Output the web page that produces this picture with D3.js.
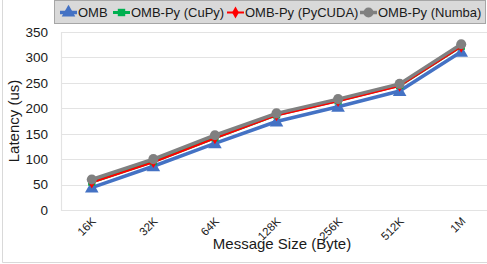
<!DOCTYPE html>
<html>
<head>
<meta charset="utf-8">
<script src="https://cdn.jsdelivr.net/npm/d3@7"></script>
<style>
  body { margin: 0; background: #fff; }
  svg { display: block; font-family: "Liberation Sans", Arial, sans-serif; }
</style>
</head>
<body>
<svg id="svg" width="487" height="264"></svg>
<script>
const sizes = ["16K", "32K", "64K", "128K", "256K", "512K", "1M"];
const yTicks = [0, 50, 100, 150, 200, 250, 300, 350];

const omb      = [44, 86, 131, 174, 203, 234, 311];
const ombCupy  = [55, 95, 142, 187, 215, 245, 322];
const ombPycuda = [54, 94, 141, 186, 214, 244, 321];
const ombNumba = [60, 100, 147, 190, 218, 248, 326];

const seriesNames = ["OMB", "OMB-Py (CuPy)", "OMB-Py (PyCUDA)", "OMB-Py (Numba)"];
const seriesData = [omb, ombCupy, ombPycuda, ombNumba];
const colors = ["#4472c4", "#00b050", "#ff0000", "#808080"];
const symbols = [d3.symbolTriangle, d3.symbolSquare, d3.symbolDiamond, d3.symbolCircle];
const symSize = [80, 55, 40, 80];
const lineW = [3.5, 3, 2, 3.5];

const svg = d3.select("#svg");

const plotL = 61, plotR = 492, plotT = 32, plotB = 210;

const x = d3.scaleBand().domain(sizes).range([plotL, plotR]);
const y = d3.scaleLinear().domain([0, 350]).range([plotB, plotT]);

// outer chart border
svg.append("path")
    .attr("d", `M2.5,-1 V262.5 H490`)
    .attr("fill", "none")
    .attr("stroke", "#d9d9d9");

// gridlines
svg.append("g")
    .selectAll("line")
    .data(yTicks)
    .enter()
    .append("line")
    .attr("x1", plotL)
    .attr("x2", plotR)
    .attr("y1", d => Math.round(y(d)) + 0.5)
    .attr("y2", d => Math.round(y(d)) + 0.5)
    .attr("stroke", "#e3e3e3")
    .attr("stroke-width", 1.2);

svg.append("line")
    .attr("x1", plotL + 0.5).attr("x2", plotL + 0.5)
    .attr("y1", plotT).attr("y2", plotB + 1)
    .attr("stroke", "#e3e3e3")
    .attr("stroke-width", 1.2);

// y axis
const yAxis = svg.append("g")
    .attr("transform", `translate(${plotL},0)`)
    .call(d3.axisLeft(y).tickValues(yTicks).tickSize(0).tickPadding(13));
yAxis.select(".domain").remove();
yAxis.selectAll("text")
    .attr("font-size", 13.5)
    .attr("font-family", "Liberation Sans, Arial, sans-serif")
    .attr("fill", "#1a1a1a");

// x axis labels
const xAxis = svg.append("g")
    .attr("transform", `translate(0,${plotB})`)
    .call(d3.axisBottom(x).tickSize(0).tickPadding(0));
xAxis.select(".domain").remove();
xAxis.selectAll("text")
    .attr("font-size", 11.5)
    .attr("font-family", "Liberation Sans, Arial, sans-serif")
    .attr("fill", "#1a1a1a")
    .attr("text-anchor", "end")
    .attr("dy", 0)
    .attr("transform", "translate(5,12) rotate(-45)");

// axis titles
svg.append("text")
    .attr("x", 282)
    .attr("y", 249)
    .attr("text-anchor", "middle")
    .attr("font-size", 15)
    .attr("fill", "#1a1a1a")
    .text("Message Size (Byte)");

svg.append("text")
    .attr("transform", "translate(19,121) rotate(-90)")
    .attr("text-anchor", "middle")
    .attr("font-size", 15)
    .attr("fill", "#1a1a1a")
    .text("Latency (us)");

// lines and markers
const line = d3.line()
    .x((d, i) => x(sizes[i]) + x.bandwidth() / 2)
    .y(d => y(d));

seriesData.forEach((vals, s) => {
    const g = svg.append("g");
    g.append("path")
        .datum(vals)
        .attr("d", line)
        .attr("fill", "none")
        .attr("stroke", colors[s])
        .attr("stroke-width", lineW[s])
        .attr("stroke-linejoin", "round");
    g.selectAll("path.mk")
        .data(vals)
        .enter()
        .append("path")
        .attr("class", "mk")
        .attr("d", d3.symbol().type(symbols[s]).size(symSize[s]))
        .attr("transform", (d, i) => `translate(${x(sizes[i]) + x.bandwidth() / 2},${y(d) + (s === 0 ? 1 : 0)})`)
        .attr("fill", colors[s]);
});

// legend
const legend = svg.append("g");
legend.append("rect")
    .attr("x", 54.5).attr("y", 0.5)
    .attr("width", 431).attr("height", 23)
    .attr("fill", "#d9d9d9")
    .attr("stroke", "#a6a6a6");

const legX = [60, 113, 227, 360];
seriesNames.forEach((name, s) => {
    const g = legend.append("g").attr("transform", `translate(${legX[s]},12.5)`);
    g.append("line")
        .attr("x1", 0).attr("x2", 17)
        .attr("stroke", colors[s])
        .attr("stroke-width", lineW[s]);
    g.append("path")
        .attr("d", d3.symbol().type(symbols[s]).size(symSize[s]))
        .attr("transform", "translate(8.5,0)")
        .attr("fill", colors[s]);
    g.append("text")
        .attr("x", 18)
        .attr("y", 4.5)
        .attr("font-size", 13)
        .attr("fill", "#1a1a1a")
        .text(name);
});
</script>
</body>
</html>
